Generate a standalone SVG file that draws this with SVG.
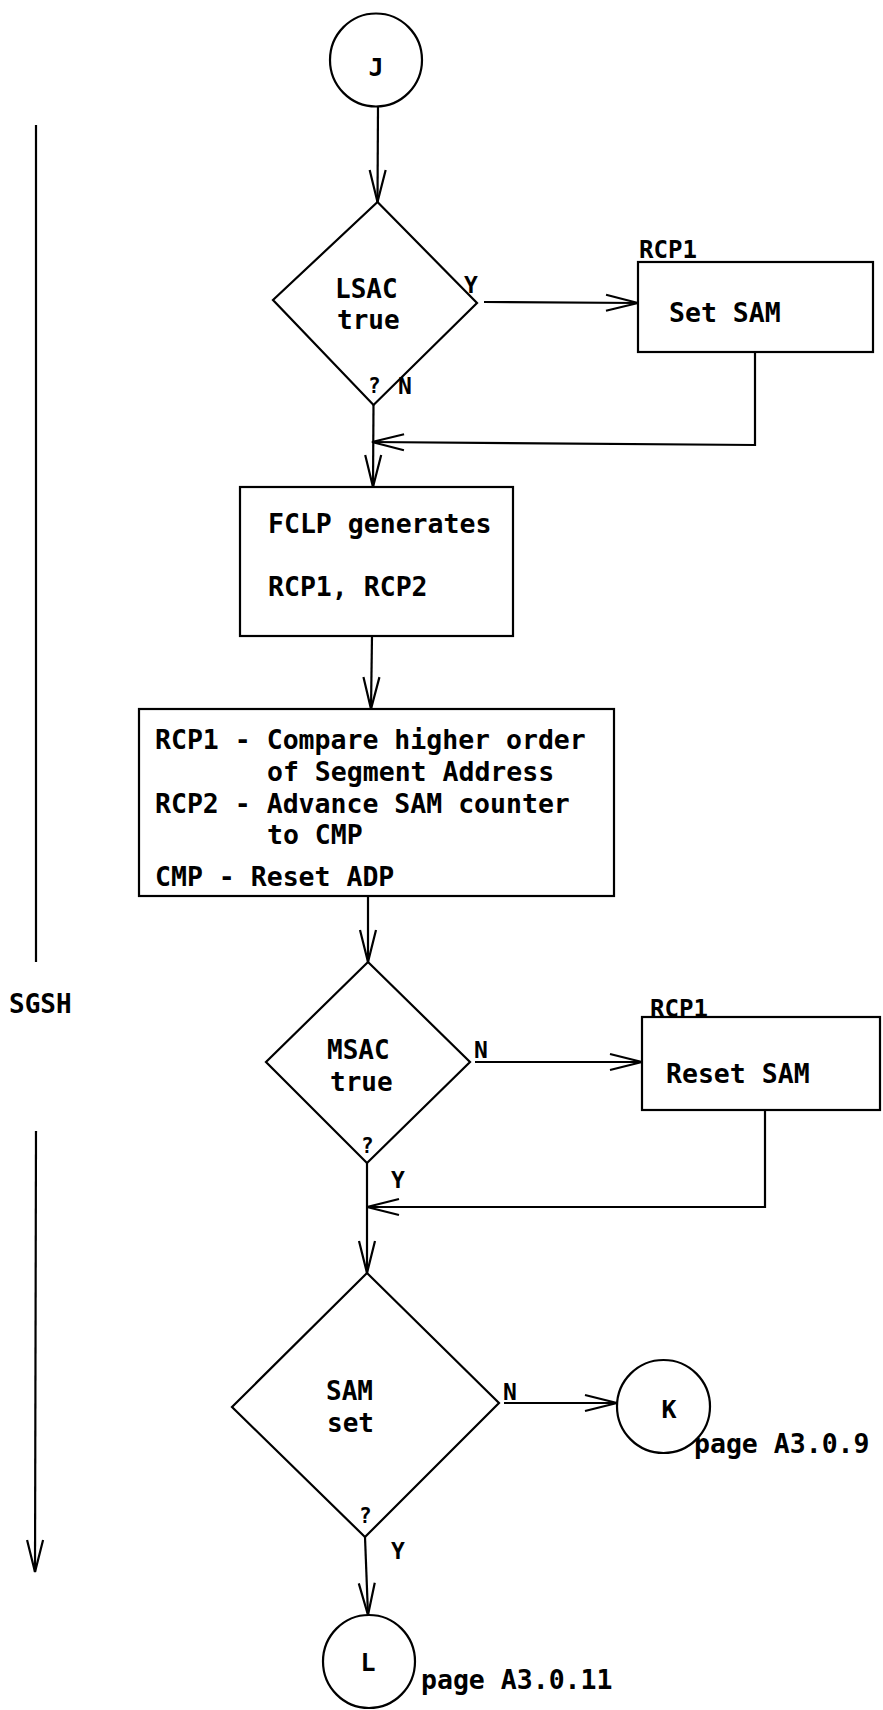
<svg xmlns="http://www.w3.org/2000/svg" width="883" height="1710" viewBox="0 0 883 1710">
<style>
.s{fill:none;stroke:#000;stroke-width:2.2}
.t{font-family:"DejaVu Sans Mono","Liberation Mono",monospace;font-weight:bold;font-size:26.5px;fill:#000}
.d{font-size:26px}
.m{font-size:23px}
.q{font-size:21px}
.n{font-size:25px}
.l{font-size:24px}
.c{text-anchor:middle}
</style>
<defs>
<marker id="arr" markerUnits="userSpaceOnUse" markerWidth="40" markerHeight="22" viewBox="-36 -11 40 22" refX="0" refY="0" orient="auto">
<path d="M-32,-8 L0,0 L-32,8" fill="none" stroke="#000" stroke-width="2.2"/>
</marker>
</defs>
<rect width="883" height="1710" fill="#fff"/>
<g id="connectors">
<line class="s" x1="378" y1="106" x2="377.5" y2="202" marker-end="url(#arr)"/>
<line class="s" x1="484" y1="302" x2="638" y2="303" marker-end="url(#arr)"/>
<polyline class="s" points="755,352 755,445 372,442" marker-end="url(#arr)"/>
<line class="s" x1="373.5" y1="405" x2="373" y2="487" marker-end="url(#arr)"/>
<line class="s" x1="372" y1="636" x2="371" y2="709" marker-end="url(#arr)"/>
<line class="s" x1="368" y1="896" x2="368" y2="962" marker-end="url(#arr)"/>
<line class="s" x1="475" y1="1062" x2="642" y2="1062" marker-end="url(#arr)"/>
<polyline class="s" points="765,1110 765,1207 367,1207" marker-end="url(#arr)"/>
<line class="s" x1="367" y1="1163" x2="367" y2="1273" marker-end="url(#arr)"/>
<line class="s" x1="504" y1="1403" x2="617" y2="1403" marker-end="url(#arr)"/>
<line class="s" x1="365" y1="1537" x2="368" y2="1615" marker-end="url(#arr)"/>
<line class="s" x1="36" y1="125" x2="36" y2="962"/>
<line class="s" x1="36" y1="1131" x2="35" y2="1572" marker-end="url(#arr)"/>
</g>
<g id="nodeJ">
<ellipse class="s" cx="376" cy="60" rx="46" ry="46.5"/>
<text class="t n c" x="376" y="76">J</text>
</g>
<g id="lsac">
<polygon class="s" points="377.5,202 477,303 373.5,405 273,300"/>
<text class="t d" x="335" y="298">LSAC</text>
<text class="t d" x="337" y="329">true</text>
<text class="t m" x="464" y="293">Y</text>
<text class="t q" x="368" y="393">?</text>
<text class="t m" x="398" y="394">N</text>
</g>
<g id="setsam">
<rect class="s" x="638" y="262" width="235" height="90"/>
<text class="t l" x="639" y="258" textLength="58" lengthAdjust="spacingAndGlyphs">RCP1</text>
<text class="t" x="669" y="322">Set SAM</text>
</g>
<g id="fclp">
<rect class="s" x="240" y="487" width="273" height="149"/>
<text class="t" x="268" y="533">FCLP generates</text>
<text class="t" x="268" y="596">RCP1, RCP2</text>
</g>
<g id="compare">
<rect class="s" x="139" y="709" width="475" height="187"/>
<text class="t" x="155" y="749" xml:space="preserve">RCP1 - Compare higher order</text>
<text class="t" x="267" y="781">of Segment Address</text>
<text class="t" x="155" y="813" xml:space="preserve">RCP2 - Advance SAM counter</text>
<text class="t" x="267" y="844">to CMP</text>
<text class="t" x="155" y="886" xml:space="preserve">CMP - Reset ADP</text>
</g>
<g id="sgsh">
<text class="t d" x="9" y="1013">SGSH</text>
</g>
<g id="msac">
<polygon class="s" points="368,962 470,1062 367,1163 266,1062"/>
<text class="t d" x="327" y="1059">MSAC</text>
<text class="t d" x="330" y="1091">true</text>
<text class="t m" x="474" y="1058">N</text>
<text class="t q" x="361" y="1153">?</text>
<text class="t m" x="391" y="1188">Y</text>
</g>
<g id="resetsam">
<rect class="s" x="642" y="1017" width="238" height="93"/>
<text class="t l" x="650" y="1017" textLength="58" lengthAdjust="spacingAndGlyphs">RCP1</text>
<text class="t" x="666" y="1083">Reset SAM</text>
</g>
<g id="samset">
<polygon class="s" points="367,1273 499,1403 365,1537 232,1407"/>
<text class="t d" x="326" y="1400">SAM</text>
<text class="t d" x="327" y="1432">set</text>
<text class="t m" x="503" y="1400">N</text>
<text class="t q" x="359" y="1523">?</text>
<text class="t m" x="391" y="1559">Y</text>
</g>
<g id="nodeK">
<ellipse class="s" cx="663.5" cy="1406.5" rx="46.5" ry="46.5"/>
<text class="t n c" x="669" y="1418">K</text>
<text class="t" x="694" y="1453">page A3.0.9</text>
</g>
<g id="nodeL">
<ellipse class="s" cx="369" cy="1661.5" rx="46" ry="46.5"/>
<text class="t n c" x="368" y="1671">L</text>
<text class="t" x="421" y="1689">page A3.0.11</text>
</g>
</svg>
